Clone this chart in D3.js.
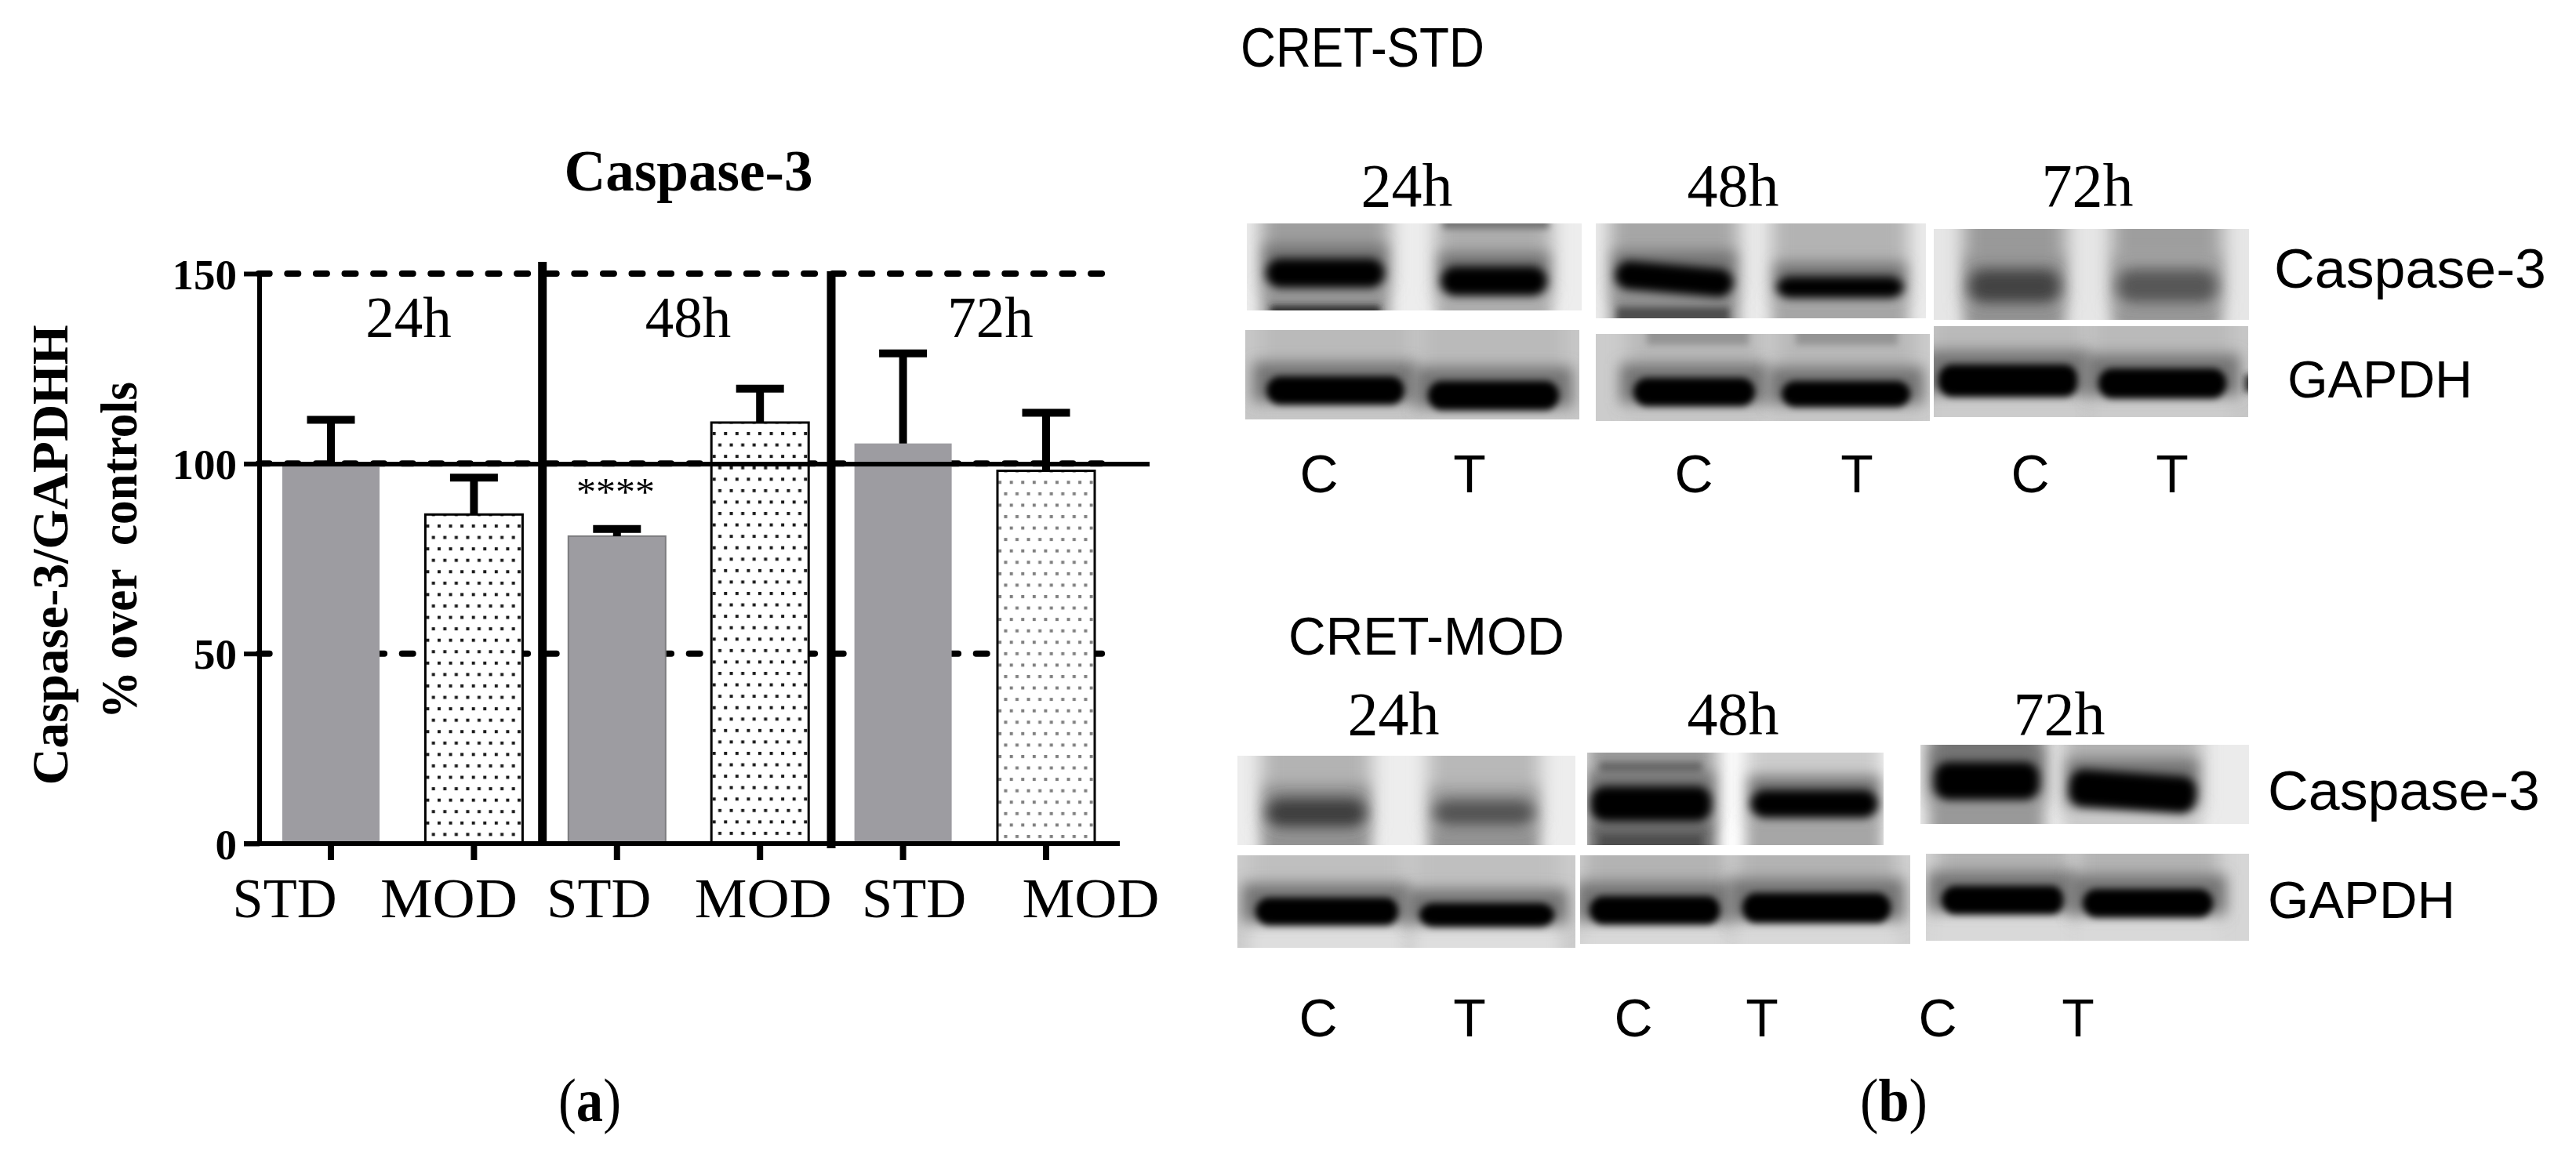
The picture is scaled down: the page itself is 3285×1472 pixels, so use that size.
<!DOCTYPE html>
<html>
<head>
<meta charset="utf-8">
<script src="https://cdn.jsdelivr.net/npm/d3@7"></script>
<style>
  html, body { margin: 0; background: #fff; }
  svg { display: block; }
  text { white-space: pre; fill: #000; }
  .serif { font-family: "Liberation Serif", serif; }
  .sans { font-family: "Liberation Sans", sans-serif; }
  .axis text { font-family: "Liberation Serif", serif; }
</style>
</head>
<body>
<svg id="chart" width="3285" height="1472"></svg>
<script>
// panel (a) values
const categories = ["STD 24h", "MOD 24h", "STD 48h", "MOD 48h", "STD 72h", "MOD 72h"];
const means = [100, 86.6, 80.9, 110.8, 105.3, 98.1];
const upper = [111.5, 96.3, 82.8, 119.7, 129, 113.4];
const yTicks = [0, 50, 100, 150];
const timeLabels = ["24h", "48h", "72h"];
const stars = "****";

const svg = d3.select("#chart");
const defs = svg.append("defs");

const margin = {left: 330.8, right: 1425.2, top: 349, bottom: 1076};

const x = d3.scaleBand()
  .domain(categories)
  .range([margin.left, margin.right])
  .paddingInner(0.32)
  .paddingOuter(0.16);

const y = d3.scaleLinear()
  .domain([0, 150])
  .range([margin.bottom, margin.top]);

const grey = "#9d9ca1";

// dotted fills, one per MOD bar since the dots do not line up between them
const dotFills = [
  {id: "dots0", dx: 560, dy: 671, fill: "#1c1c1c"},
  {id: "dots1", dx: 1012.7, dy: 902.7, fill: "#1c1c1c"},
  {id: "dots2", dx: 1289.7, dy: 906.7, fill: "#808080"}
];
const pitch = 14.57;

dotFills.forEach(p => {
  const pat = defs.append("pattern")
    .attr("id", p.id)
    .attr("patternUnits", "userSpaceOnUse")
    .attr("width", pitch)
    .attr("height", pitch * 2)
    .attr("patternTransform", `translate(${p.dx - 2},${p.dy - 2})`);
  pat.append("rect").attr("width", pitch).attr("height", pitch * 2).attr("fill", "#fff");
  pat.append("rect").attr("width", 4).attr("height", 4).attr("fill", p.fill);
  pat.append("rect").attr("x", pitch / 2).attr("y", pitch).attr("width", 4).attr("height", 4).attr("fill", p.fill);
});

// dashed grid goes behind the bars
svg.append("g")
  .selectAll("line")
  .data(yTicks.filter(d => d > 0))
  .enter().append("line")
  .attr("x1", 329.7)
  .attr("x2", 1426)
  .attr("y1", d => y(d))
  .attr("y2", d => y(d))
  .attr("stroke", "#000")
  .attr("stroke-width", 8)
  .attr("stroke-linecap", "round")
  .attr("stroke-dasharray", "14 22.6");

const isStd = (d, i) => i % 2 === 0;

svg.append("g")
  .selectAll("rect")
  .data(means)
  .enter().append("rect")
  .attr("x", (d, i) => x(categories[i]))
  .attr("y", d => y(d))
  .attr("width", x.bandwidth())
  .attr("height", d => y(0) - y(d))
  .attr("fill", (d, i) => isStd(d, i) ? grey : `url(#dots${(i - 1) / 2})`)
  .attr("stroke", (d, i) => isStd(d, i) ? (i === 2 ? "#7c7c7f" : "none") : "#000")
  .attr("stroke-width", (d, i) => isStd(d, i) ? 2 : 3);

const errors = svg.append("g").attr("stroke", "#000").attr("stroke-width", 10);

errors.selectAll("line.stem")
  .data(means)
  .enter().append("line")
  .attr("class", "stem")
  .attr("x1", (d, i) => x(categories[i]) + x.bandwidth() / 2)
  .attr("x2", (d, i) => x(categories[i]) + x.bandwidth() / 2)
  .attr("y1", d => y(d))
  .attr("y2", (d, i) => y(upper[i]));

errors.selectAll("line.cap")
  .data(upper)
  .enter().append("line")
  .attr("class", "cap")
  .attr("x1", (d, i) => x(categories[i]) + x.bandwidth() / 2 - 30.5)
  .attr("x2", (d, i) => x(categories[i]) + x.bandwidth() / 2 + 30.5)
  .attr("y1", d => y(d))
  .attr("y2", d => y(d));

// axes
const xNudge = [-59, -32, -23, 4, 14, 57];

svg.append("g")
  .attr("class", "axis")
  .attr("transform", `translate(0,${y(0)})`)
  .call(d3.axisBottom(x).tickSize(21).tickPadding(50).tickFormat(d => d.split(" ")[0]))
  .call(g => g.select(".domain").remove())
  .call(g => g.selectAll("line").attr("stroke", "#000").attr("stroke-width", 8))
  .call(g => g.selectAll("text")
    .attr("fill", "#000")
    .attr("font-size", 72)
    .attr("dx", (d, i) => xNudge[i])
    .attr("dy", 0)
    .attr("y", 94)
    .attr("textLength", d => d.startsWith("STD") ? 133 : 175)
    .attr("lengthAdjust", "spacingAndGlyphs"));

svg.append("line")
  .attr("x1", 311).attr("x2", 1428)
  .attr("y1", y(0)).attr("y2", y(0))
  .attr("stroke", "#000").attr("stroke-width", 6);

svg.append("g")
  .attr("class", "axis")
  .attr("transform", "translate(331,0)")
  .call(d3.axisLeft(y).tickValues(yTicks).tickSize(20).tickPadding(9))
  .call(g => g.select(".domain").remove())
  .call(g => g.selectAll("line").attr("stroke", "#000").attr("stroke-width", 6))
  .call(g => g.selectAll("text")
    .attr("fill", "#000")
    .attr("font-size", 55)
    .attr("font-weight", "bold")
    .attr("dy", 19));

svg.append("line")
  .attr("x1", 331).attr("x2", 331)
  .attr("y1", y(150) - 3).attr("y2", y(0) + 3)
  .attr("stroke", "#000").attr("stroke-width", 6);

// solid control line at 100, it sits a touch under the dashed one
svg.append("line")
  .attr("x1", 311).attr("x2", 1466)
  .attr("y1", y(100) + 0.7).attr("y2", y(100) + 0.7)
  .attr("stroke", "#000").attr("stroke-width", 6);

// thick separators between the time groups
svg.append("line")
  .attr("x1", 691.7).attr("x2", 691.7)
  .attr("y1", 334).attr("y2", y(0) + 3)
  .attr("stroke", "#000").attr("stroke-width", 11);
svg.append("line")
  .attr("x1", 1060).attr("x2", 1060)
  .attr("y1", 346).attr("y2", 1082)
  .attr("stroke", "#000").attr("stroke-width", 11);

const label = (cls, str, px, py, size, opts = {}) => {
  const t = svg.append("text")
    .attr("class", cls)
    .attr("x", px)
    .attr("y", py)
    .attr("font-size", size)
    .attr("text-anchor", opts.anchor || "middle")
    .attr("font-weight", opts.weight || "normal")
    .text(str);
  if (opts.width) t.attr("textLength", opts.width).attr("lengthAdjust", "spacingAndGlyphs");
  if (opts.rotate) t.attr("transform", `rotate(-90 ${px} ${py})`);
  return t;
};

label("serif", "Caspase-3", 878, 243, 73, {weight: "bold", width: 317});
label("serif", "Caspase-3/GAPDHH", 86, 708, 65, {weight: "bold", width: 587, rotate: true});
label("serif", "% over  controls", 174, 702, 65, {weight: "bold", width: 430, rotate: true});
label("serif", stars, 785, 644, 50);

[521, 877.5, 1263].forEach((px, i) => label("serif", timeLabels[i], px, 430, 73));

// (a) / (b) captions, the letter alone is bold
const caption = (letter, px, w) => {
  const t = label("serif", "(", px, 1430, 78);
  t.append("tspan").attr("font-weight", "bold").text(letter);
  t.append("tspan").text(")");
  t.attr("textLength", w).attr("lengthAdjust", "spacingAndGlyphs");
};
caption("a", 752, 80);
caption("b", 2415, 86);

// panel (b): the blots. ink is 0 (white) .. 1 (black)
const ink = d3.scaleLinear().domain([0, 1]).range(["#ffffff", "#000000"]);

[4, 6, 9, 12].forEach(sd => {
  defs.append("filter")
    .attr("id", `blur${sd}`)
    .attr("x", "-30%").attr("y", "-120%").attr("width", "160%").attr("height", "340%")
    .append("feGaussianBlur").attr("stdDeviation", sd);
});

// box: x0,x1,y0,y1  soft: core blur  lanes: x0,x1,y0,y1,core,above,below,tilt  extra: x0,x1,y0,y1,core
const blots = [
  {box: [1590, 2017, 285, 396], bg: 0.07, soft: 6,
    lanes: [[1612, 1768, 330, 367, 1, 0.38, 0.42, 0], [1835, 1975, 340, 377, 1, 0.32, 0.32, 0]],
    extra: [[1620, 1760, 390, 402, 0.85], [1840, 1975, 278, 292, 0.55]]},
  {box: [2035, 2456, 285, 406], bg: 0.08, soft: 6,
    lanes: [[2057, 2213, 338, 374, 1, 0.35, 0.45, 5], [2263, 2430, 353, 380, 1, 0.3, 0.35, 0]],
    extra: [[2062, 2205, 392, 412, 0.7]]},
  {box: [2466, 2868, 292, 408], bg: 0.1, soft: 9,
    lanes: [[2508, 2630, 343, 387, 0.74, 0.4, 0.42, 0], [2697, 2830, 343, 387, 0.66, 0.38, 0.4, 0]],
    extra: []},
  {box: [1588, 2014, 421, 535], bg: 0.22, soft: 4,
    lanes: [[1612, 1794, 480, 516, 1, 0.27, 0.22, 0], [1818, 1991, 486, 523, 1, 0.27, 0.22, 0]],
    extra: []},
  {box: [2035, 2461, 426, 537], bg: 0.2, soft: 4,
    lanes: [[2080, 2241, 482, 518, 1, 0.28, 0.22, 0], [2269, 2439, 486, 519, 1, 0.28, 0.22, 0]],
    extra: [[2100, 2230, 415, 440, 0.42], [2290, 2420, 415, 440, 0.42]]},
  {box: [2466, 2867, 416, 532], bg: 0.22, soft: 4,
    lanes: [[2469, 2653, 465, 506, 1, 0.27, 0.2, 0], [2673, 2842, 470, 508, 1, 0.27, 0.2, 0]],
    extra: [[2862, 2880, 478, 500, 0.8]]},
  {box: [1578, 2009, 964, 1078], bg: 0.07, soft: 9,
    lanes: [[1612, 1745, 1018, 1056, 0.76, 0.3, 0.42, 0], [1825, 1960, 1020, 1054, 0.68, 0.28, 0.42, 0]],
    extra: []},
  {box: [2024, 2402, 960, 1078], bg: 0, soft: 6,
    lanes: [[2026, 2185, 1003, 1048, 1, 0.4, 0.6, 0], [2230, 2397, 1008, 1043, 1, 0.2, 0.35, 0]],
    extra: [[2040, 2170, 972, 985, 0.6], [2040, 2170, 1065, 1085, 0.7]]},
  {box: [2449, 2868, 950, 1051], bg: 0.08, soft: 6,
    lanes: [[2464, 2603, 972, 1020, 1, 0.55, 0.4, 0], [2636, 2803, 986, 1033, 1, 0.3, 0.2, 4]],
    extra: []},
  {box: [1578, 2009, 1091, 1209], bg: 0.2, soft: 4,
    lanes: [[1598, 1787, 1145, 1180, 1, 0.25, 0.13, 0], [1807, 1985, 1152, 1182, 1, 0.25, 0.13, 0]],
    extra: []},
  {box: [2015, 2436, 1091, 1204], bg: 0.18, soft: 4,
    lanes: [[2024, 2197, 1143, 1179, 1, 0.3, 0.15, 0], [2219, 2414, 1139, 1177, 1, 0.3, 0.15, 0]],
    extra: []},
  {box: [2456, 2868, 1089, 1200], bg: 0.16, soft: 4,
    lanes: [[2473, 2636, 1130, 1166, 1, 0.3, 0.15, 0], [2653, 2825, 1134, 1170, 1, 0.3, 0.15, 0]],
    extra: []}
];

const blotGroup = svg.append("g");

blots.forEach((b, n) => {
  const [bx0, bx1, by0, by1] = b.box;
  defs.append("clipPath").attr("id", `clip${n}`)
    .append("rect").attr("x", bx0).attr("y", by0).attr("width", bx1 - bx0).attr("height", by1 - by0);
  const g = blotGroup.append("g").attr("clip-path", `url(#clip${n})`);
  const block = (x0, x1, y0, y1, level, sd, rx = 0) => g.append("rect")
    .attr("x", x0).attr("y", y0)
    .attr("width", x1 - x0).attr("height", y1 - y0)
    .attr("rx", rx)
    .attr("fill", ink(level))
    .attr("filter", `url(#blur${sd})`);

  g.append("rect").attr("x", bx0).attr("y", by0)
    .attr("width", bx1 - bx0).attr("height", by1 - by0)
    .attr("fill", ink(b.bg));

  // gapdh bands bleed sideways into the gap, the caspase lanes do not
  const spread = b.soft === 4 ? 14 : 0;

  b.lanes.forEach(l => {
    const [x0, x1, y0, y1, core, above, below, tilt] = l;
    block(x0 - 4, x1 + 4, by0 - 30, y1, above, 12);
    block(x0 - 4, x1 + 4, y1 - 5, by1 + 30, below, 9);
    block(x0 - spread, x1 + spread, y0 - 18, y1 - 4, core * 0.55, 9);
    const c = block(x0 + 3, x1 - 3, y0, y1, core, b.soft, 18);
    if (tilt) c.attr("transform", `rotate(${tilt} ${(x0 + x1) / 2} ${(y0 + y1) / 2})`);
  });

  b.extra.forEach(e => block(e[0], e[1], e[2], e[3], e[4], 4));
});

// blot labels
label("sans", "CRET-STD", 1582, 85, 70, {anchor: "start", width: 311});
label("sans", "CRET-MOD", 1643, 835, 68, {anchor: "start", width: 352});

[1794, 2210, 2662].forEach((px, i) => label("serif", timeLabels[i], px, 263, 78));
[1777, 2210, 2626].forEach((px, i) => label("serif", timeLabels[i], px, 937, 78));

label("sans", "Caspase-3", 2900, 367, 71, {anchor: "start", width: 347});
label("sans", "GAPDH", 2917, 507, 67, {anchor: "start", width: 236});
label("sans", "Caspase-3", 2892, 1033, 71, {anchor: "start", width: 347});
label("sans", "GAPDH", 2892, 1171, 67, {anchor: "start", width: 239});

const laneCodes = ["C", "T", "C", "T", "C", "T"];
[1682, 1874, 2160, 2368, 2589, 2770].forEach((px, i) => label("sans", laneCodes[i], px, 628, 68));
[1681, 1874, 2083, 2247, 2471, 2650].forEach((px, i) => label("sans", laneCodes[i], px, 1322, 68));
</script>
</body>
</html>
